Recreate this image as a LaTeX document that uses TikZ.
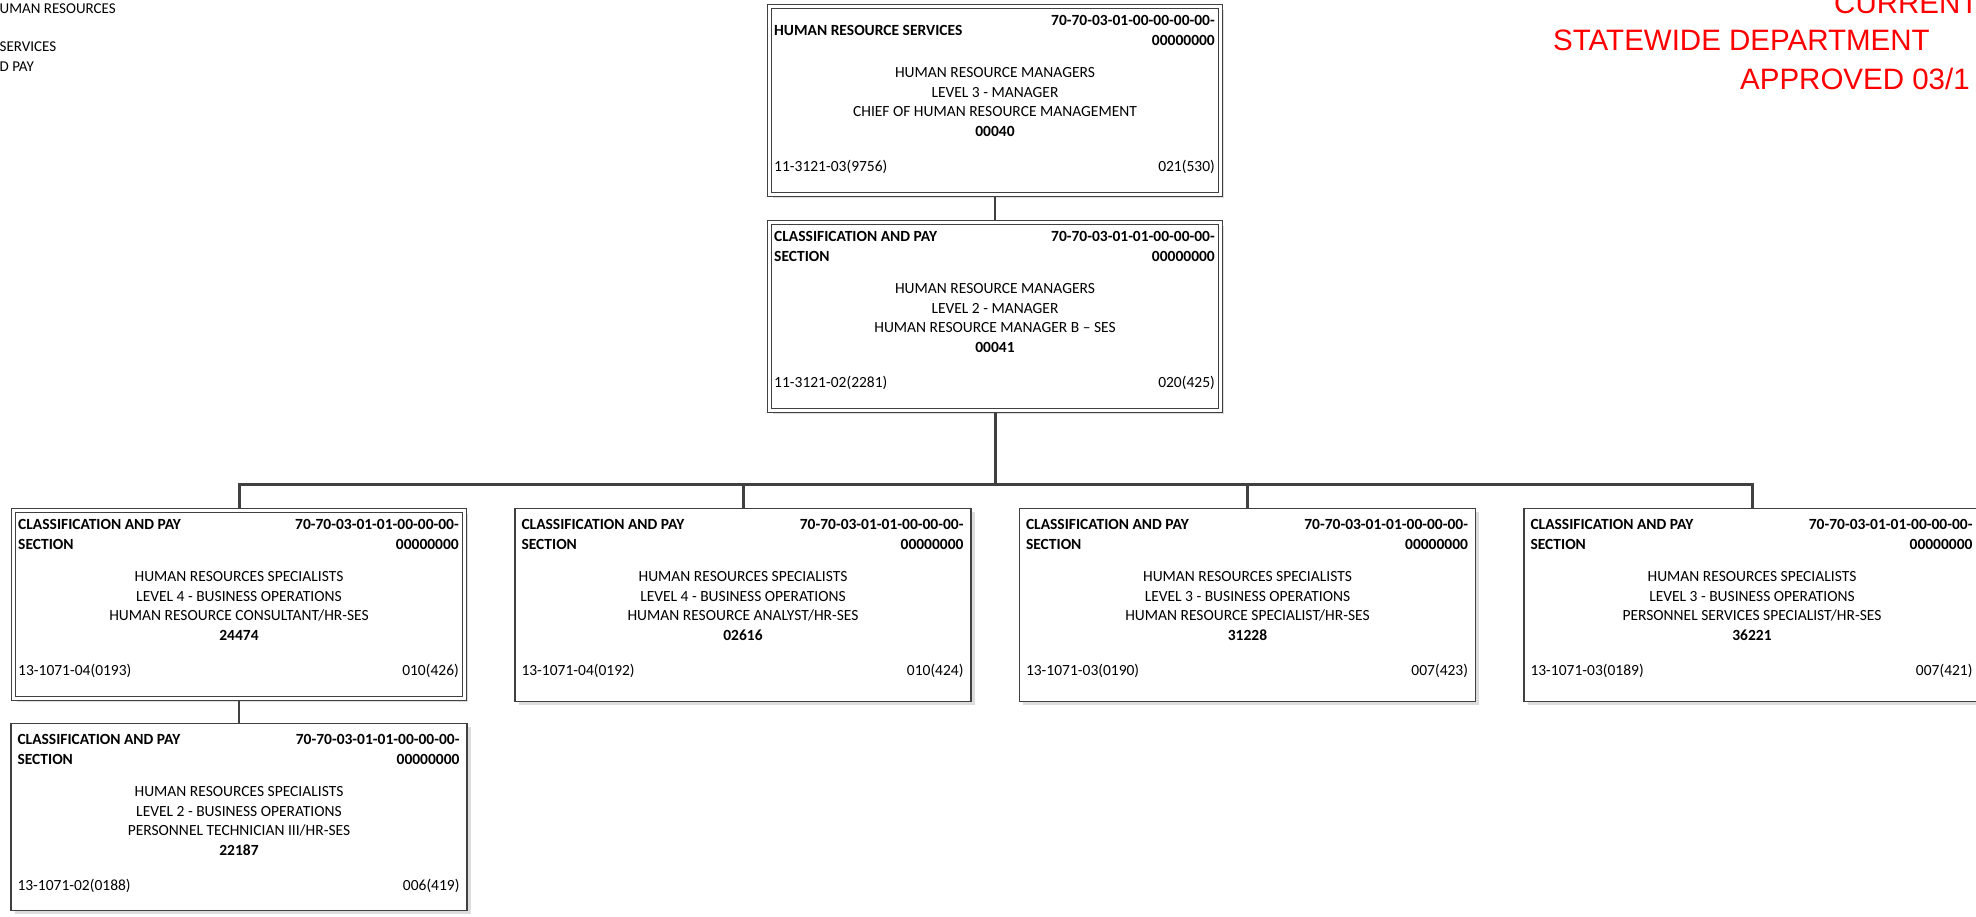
\documentclass[tikz,border=0pt]{standalone}
\usepackage{fontspec}
\setmainfont{Carlito}
\newfontfamily\arialf{Liberation Sans}
\usetikzlibrary{shadows,calc}
\definecolor{linegray}{HTML}{404040}
\definecolor{titlered}{HTML}{FF0000}
\newcommand\txtfont{\fontsize{15.5}{20}\selectfont}
\newcommand\bodyfont{\fontsize{15.5}{19.5}\selectfont}
\newcommand\idline{70-70-03-01-01-00-00-00-}
\tikzset{
  x=1pt, y=-1pt,
  boxbase/.style={draw=linegray, fill=white, rectangle, inner sep=0pt, anchor=north,
    drop shadow={shadow xshift=3.5pt, shadow yshift=-3.5pt, fill=black!22, opacity=0.6}},
  sglbox/.style={boxbase, line width=1.4pt, minimum width=456pt, minimum height=193pt},
  dblbox/.style={boxbase, double, line width=1.3pt, double distance=2.5pt,
    minimum width=451pt, minimum height=188pt, outer sep=2.5pt},
  txt/.style={inner sep=0pt, font=\txtfont, text=black},
  hdr/.style={txt, font=\txtfont\bfseries, align=left},
  conn/.style={draw=linegray, line width=3pt, line join=miter},
  connthin/.style={draw=linegray, line width=2.1pt},
  redtitle/.style={inner sep=0pt, anchor=base west, text=titlered, font=\arialf\fontsize{29.5}{36}\selectfont},
  lefttitle/.style={inner sep=0pt, anchor=base west, font=\fontsize{15}{20}\selectfont}
}
% #1 name, #2 cx, #3 top, #4 style, #5 header, #6 body lines, #7 number, #8 left code, #9 right code
\newcommand\posbox[9]{%
  \node[#4] (#1) at (#2,#3) {};
  \node[hdr, anchor=west] (#1-h) at ($(#1.north west)+(7,26)$) {#5};
  \node[hdr, anchor=east, align=right] (#1-id) at ($(#1.north east)+(-8,26)$) {\idline\\00000000};
  \node[txt, font=\bodyfont, align=center, anchor=center] (#1-b) at ($(#1.north)+(0,98)$) {#6\\\textbf{#7}};
  \node[txt, anchor=west] (#1-l) at ($(#1.north west)+(7,163)$) {#8};
  \node[txt, anchor=east] (#1-r) at ($(#1.north east)+(-8,163)$) {#9};
}
\begin{document}
\begin{tikzpicture}
\useasboundingbox (0,0) rectangle (1976,916);
\clip (0,0) rectangle (1976,916);

% top-left (cut) title
\node[lefttitle] (lt1) at (-0.5,13) {UMAN RESOURCES};
\node[lefttitle] (lt2) at (-0.5,51) {SERVICES};
\node[lefttitle] (lt3) at (-0.5,71) {D PAY};

% top-right (cut) red title
\node[redtitle] (rt1) at (1834,13) {CURRENT};
\node[redtitle] (rt2) at (1553,50) {STATEWIDE DEPARTMENT};
\node[redtitle] (rt3) at (1740,89) {APPROVED 03/1};

\renewcommand\idline{70-70-03-01-00-00-00-00-}
\posbox{hrs}{995}{4}{dblbox}{HUMAN RESOURCE SERVICES}
  {HUMAN RESOURCE MANAGERS\\LEVEL 3 - MANAGER\\CHIEF OF HUMAN RESOURCE MANAGEMENT}
  {00040}{11-3121-03(9756)}{021(530)}
\renewcommand\idline{70-70-03-01-01-00-00-00-}
\posbox{cps}{995}{220}{dblbox}{CLASSIFICATION AND PAY\\SECTION}
  {HUMAN RESOURCE MANAGERS\\LEVEL 2 - MANAGER\\HUMAN RESOURCE MANAGER B -- SES}
  {00041}{11-3121-02(2281)}{020(425)}

\posbox{bA}{239}{508}{dblbox}{CLASSIFICATION AND PAY\\SECTION}
  {HUMAN RESOURCES SPECIALISTS\\LEVEL 4 - BUSINESS OPERATIONS\\HUMAN RESOURCE CONSULTANT/HR-SES}
  {24474}{13-1071-04(0193)}{010(426)}
\posbox{bB}{743}{508}{sglbox}{CLASSIFICATION AND PAY\\SECTION}
  {HUMAN RESOURCES SPECIALISTS\\LEVEL 4 - BUSINESS OPERATIONS\\HUMAN RESOURCE ANALYST/HR-SES}
  {02616}{13-1071-04(0192)}{010(424)}
\posbox{bC}{1247.5}{508}{sglbox}{CLASSIFICATION AND PAY\\SECTION}
  {HUMAN RESOURCES SPECIALISTS\\LEVEL 3 - BUSINESS OPERATIONS\\HUMAN RESOURCE SPECIALIST/HR-SES}
  {31228}{13-1071-03(0190)}{007(423)}
\posbox{bD}{1752}{508}{sglbox}{CLASSIFICATION AND PAY\\SECTION}
  {HUMAN RESOURCES SPECIALISTS\\LEVEL 3 - BUSINESS OPERATIONS\\PERSONNEL SERVICES SPECIALIST/HR-SES}
  {36221}{13-1071-03(0189)}{007(421)}
\posbox{bE}{239}{723}{sglbox, minimum height=187pt}{CLASSIFICATION AND PAY\\SECTION}
  {HUMAN RESOURCES SPECIALISTS\\LEVEL 2 - BUSINESS OPERATIONS\\PERSONNEL TECHNICIAN III/HR-SES}
  {22187}{13-1071-02(0188)}{006(419)}

% connectors
\coordinate (bus) at (995,484);
\draw[connthin] (hrs.south) -- (cps.north);
\draw[conn] (cps.south) -- (bus);
\draw[conn] (bA.north) |- (bus) -| (bD.north);
\draw[conn] (bB.north) -- (bB.north |- bus);
\draw[conn] (bC.north) -- (bC.north |- bus);
\draw[connthin] (bA.south) -- (bE.north);
\end{tikzpicture}
\end{document}
